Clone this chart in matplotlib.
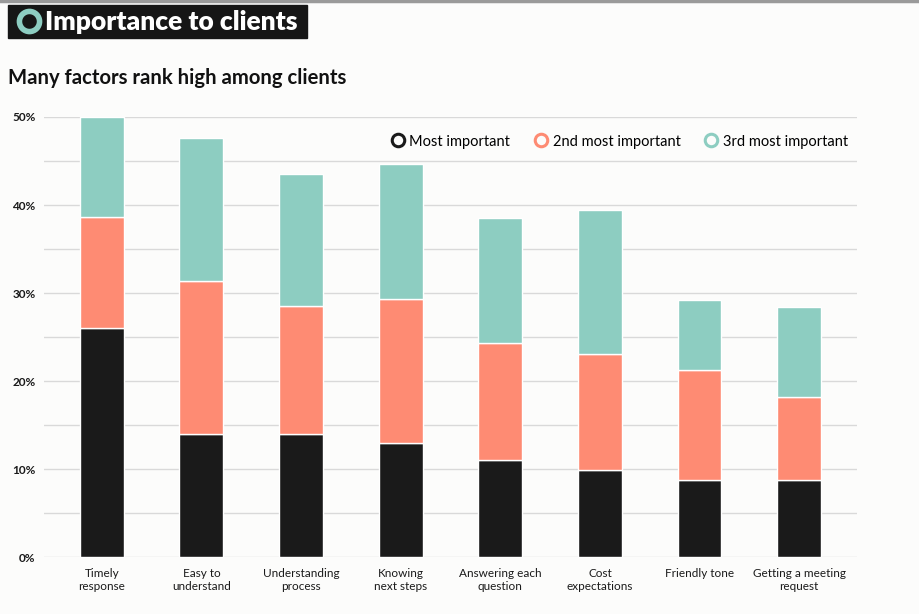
import matplotlib.pyplot as plt
import matplotlib.patches as mpatches
from matplotlib.lines import Line2D
import numpy as np

plt.rcParams['font.family'] = ['Lato', 'DejaVu Sans']

categories = ["Timely\nresponse", "Easy to\nunderstand", "Understanding\nprocess",
              "Knowing\nnext steps", "Answering each\nquestion", "Cost\nexpectations",
              "Friendly tone", "Getting a meeting\nrequest"]
most_important = [26.0, 14.0, 14.0, 13.0, 11.0, 9.9, 8.7, 8.7]
second_important = [12.6, 17.4, 14.5, 16.3, 13.3, 13.2, 12.5, 9.5]
third_important = [11.4, 16.2, 15.0, 15.4, 14.2, 16.3, 8.0, 10.2]
series_names = ["Most important", "2nd most important", "3rd most important"]
colors = ["#1a1a1a", "#fe8b73", "#8dcdc1"]
bg = "#fcfcfb"

W, H = 920, 614
fig = plt.figure(figsize=(9.2, 6.14), dpi=100, facecolor=bg)
ax = fig.add_axes([44 / W, 57 / H, (857 - 44) / W, (557 - 117) / H], facecolor=bg)

x = np.arange(len(categories))
bottom = np.zeros(len(categories))
for vals, col in zip([most_important, second_important, third_important], colors):
    ax.bar(x, vals, 0.44, bottom=bottom, color=col, edgecolor="white",
           linewidth=1, zorder=3, clip_on=False)
    bottom += np.array(vals)

ax.set_xlim(-0.58, 7.58)
ax.set_ylim(0, 50)
ax.set_yticks(np.arange(0, 51, 5), minor=False)
ax.set_yticklabels([f"{v}%" if v % 10 == 0 else "" for v in range(0, 51, 5)],
                   fontsize=8.5, fontweight="bold", color="#1a1a1a")
ax.grid(axis="y", color="#d9d9d9", linewidth=1, zorder=0)
ax.tick_params(axis="y", length=0, pad=6)
ax.set_xticks(x)
ax.set_xticklabels(categories, fontsize=8.5, color="#1a1a1a", linespacing=1.25)
ax.tick_params(axis="x", length=0, pad=8)
for s in ax.spines.values():
    s.set_visible(False)

handles = [Line2D([], [], marker="o", linestyle="none", markersize=9,
                  markerfacecolor="none", markeredgecolor=c, markeredgewidth=2.2)
           for c in colors]
ax.legend(handles, series_names, loc="upper right", bbox_to_anchor=(1.005, 0.99),
          ncol=3, frameon=False, fontsize=10.5, handletextpad=0.3,
          columnspacing=1.6, handlelength=1.0)

# title block
fig.add_artist(mpatches.Rectangle((8 / W, 1 - 38 / H), 299 / W, 33 / H,
                                  transform=fig.transFigure, color="#161616"))
fig.add_artist(Line2D([29 / W], [1 - 21 / H], marker="o", markersize=14.5,
                      markerfacecolor="none", markeredgecolor="#8dcdc1",
                      markeredgewidth=4, transform=fig.transFigure))
fig.text(45 / W, 1 - 22 / H, "Importance to clients", color="white",
         fontsize=19, fontweight="heavy", va="center", ha="left")
fig.add_artist(Line2D([0, 1], [1 - 1 / H, 1 - 1 / H], color="#9a9a9a",
                      linewidth=2.5, transform=fig.transFigure))
fig.text(8 / W, 1 - 78 / H, "Many factors rank high among clients", color="#111111",
         fontsize=14.6, fontweight="bold", va="center", ha="left")

fig.savefig("out.png", dpi=100, facecolor=bg)
